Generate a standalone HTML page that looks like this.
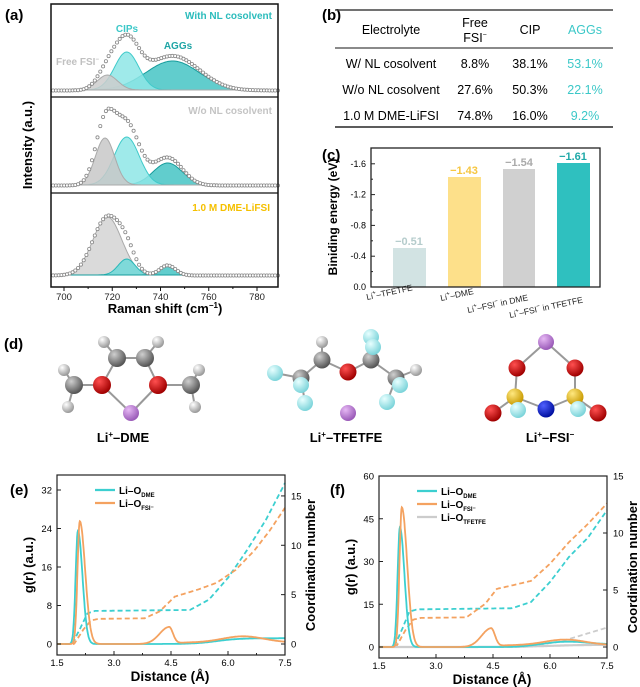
<!DOCTYPE html>
<html><head><meta charset="utf-8"><style>
body{margin:0;background:#fff}
svg{display:block;font-family:"Liberation Sans",Arial,sans-serif}
</style></head><body>
<svg id="s" width="640" height="687" viewBox="0 0 640 687" xmlns="http://www.w3.org/2000/svg">
<defs>
<radialGradient id="gC" cx="35%" cy="30%" r="70%"><stop offset="0" stop-color="#cfcfcf"/><stop offset="1" stop-color="#555"/></radialGradient>
<radialGradient id="gH" cx="35%" cy="30%" r="70%"><stop offset="0" stop-color="#fff"/><stop offset="1" stop-color="#999"/></radialGradient>
<radialGradient id="gO" cx="35%" cy="30%" r="70%"><stop offset="0" stop-color="#ff5050"/><stop offset="1" stop-color="#a00000"/></radialGradient>
<radialGradient id="gL" cx="35%" cy="30%" r="70%"><stop offset="0" stop-color="#e6b8f4"/><stop offset="1" stop-color="#9a5ab8"/></radialGradient>
<radialGradient id="gF" cx="35%" cy="30%" r="70%"><stop offset="0" stop-color="#e8ffff"/><stop offset="1" stop-color="#7cd4da"/></radialGradient>
<radialGradient id="gS" cx="35%" cy="30%" r="70%"><stop offset="0" stop-color="#ffe880"/><stop offset="1" stop-color="#c89a00"/></radialGradient>
<radialGradient id="gN" cx="35%" cy="30%" r="70%"><stop offset="0" stop-color="#5060ff"/><stop offset="1" stop-color="#0010a0"/></radialGradient>
</defs>
<g id="a"></g>
<!-- panel a labels -->
<text x="5" y="20" font-size="15" font-weight="bold">(a)</text>
<text x="272" y="19" font-size="10" font-weight="bold" fill="#2bbcbc" text-anchor="end">With NL cosolvent</text>
<text x="127" y="32" font-size="10" font-weight="bold" fill="#3cc8c8" text-anchor="middle">CIPs</text>
<text x="178" y="49" font-size="10" font-weight="bold" fill="#1fa5a5" text-anchor="middle">AGGs</text>
<text x="56" y="65" font-size="10" font-weight="bold" fill="#c0c0c0">Free FSI<tspan font-size="6" dy="-4">−</tspan></text>
<text x="272" y="114" font-size="10" font-weight="bold" fill="#c4c4c4" text-anchor="end">W/o NL cosolvent</text>
<text x="270" y="211" font-size="10" font-weight="bold" fill="#f5c000" text-anchor="end">1.0 M DME-LiFSI</text>
<text transform="translate(32,145) rotate(-90)" font-size="13" font-weight="bold" text-anchor="middle">Intensity (a.u.)</text>
<text x="165" y="313" font-size="13" font-weight="bold" text-anchor="middle">Raman shift (cm<tspan font-size="8" dy="-5">−1</tspan><tspan dy="5">)</tspan></text>
<!-- panel b -->
<text x="322" y="20" font-size="15" font-weight="bold">(b)</text>
<g stroke="#444"><line x1="335" y1="10" x2="613" y2="10" stroke-width="1.5"/><line x1="335" y1="48" x2="613" y2="48" stroke-width="1.2"/><line x1="335" y1="127" x2="613" y2="127" stroke-width="1.8"/></g>
<g font-size="12.5" text-anchor="middle">
<text x="391" y="34">Electrolyte</text>
<text x="475" y="27">Free</text><text x="475" y="42">FSI<tspan font-size="7" dy="-5">−</tspan></text>
<text x="530" y="34">CIP</text>
<text x="585" y="34" fill="#3cc8c8">AGGs</text>
<text x="391" y="68">W/ NL cosolvent</text><text x="475" y="68">8.8%</text><text x="530" y="68">38.1%</text><text x="585" y="68" fill="#3cc8c8">53.1%</text>
<text x="391" y="94">W/o NL cosolvent</text><text x="475" y="94">27.6%</text><text x="530" y="94">50.3%</text><text x="585" y="94" fill="#3cc8c8">22.1%</text>
<text x="391" y="120">1.0 M DME-LiFSI</text><text x="475" y="120">74.8%</text><text x="530" y="120">16.0%</text><text x="585" y="120" fill="#3cc8c8">9.2%</text>
</g>
<!-- panel c -->
<text x="322" y="160" font-size="15" font-weight="bold">(c)</text>
<rect x="393" y="248" width="33" height="39" fill="#d2e3e3"/>
<rect x="448" y="177" width="33" height="110" fill="#fde08a"/>
<rect x="503" y="169" width="32" height="118" fill="#d0d0d0"/>
<rect x="557" y="163" width="33" height="124" fill="#2fc0bf"/>
<rect x="371" y="148" width="229" height="139" fill="none" stroke="#222" stroke-width="1.3"/>
<g font-size="11" font-weight="bold" text-anchor="middle">
<text x="409" y="245" fill="#b5cccc">−0.51</text>
<text x="464" y="174" fill="#f6c640">−1.43</text>
<text x="519" y="166" fill="#aaa">−1.54</text>
<text x="573" y="160" fill="#1fa9a8">−1.61</text>
</g>
<g font-size="9" text-anchor="end" id="cy"></g>
<text transform="translate(337,217) rotate(-90)" font-size="12" font-weight="bold" text-anchor="middle">Biniding energy (eV)</text>
<g font-size="8.5" fill="#222">
<text transform="translate(367,300) rotate(-12)">Li<tspan font-size="6" dy="-4">+</tspan><tspan dy="4">–TFETFE</tspan></text>
<text transform="translate(441,301) rotate(-12)">Li<tspan font-size="6" dy="-4">+</tspan><tspan dy="4">–DME</tspan></text>
<text transform="translate(468,313) rotate(-12)">Li<tspan font-size="6" dy="-4">+</tspan><tspan dy="4">–FSI</tspan><tspan font-size="6" dy="-4">−</tspan><tspan dy="4"> in DME</tspan></text>
<text transform="translate(510,318) rotate(-12)">Li<tspan font-size="6" dy="-4">+</tspan><tspan dy="4">–FSI</tspan><tspan font-size="6" dy="-4">−</tspan><tspan dy="4"> in TFETFE</tspan></text>
</g>
<!-- panel d -->
<text x="4" y="349" font-size="15" font-weight="bold">(d)</text>
<g id="mol"></g>
<g font-size="13" font-weight="bold" text-anchor="middle">
<text x="123" y="442">Li<tspan font-size="8" dy="-5">+</tspan><tspan dy="5">–DME</tspan></text>
<text x="346" y="442">Li<tspan font-size="8" dy="-5">+</tspan><tspan dy="5">–TFETFE</tspan></text>
<text x="550" y="442">Li<tspan font-size="8" dy="-5">+</tspan><tspan dy="5">–FSI</tspan><tspan font-size="8" dy="-5">−</tspan></text>
</g>
<g id="e"></g><g id="f"></g>
<text x="10" y="495" font-size="15" font-weight="bold">(e)</text>
<text x="330" y="495" font-size="15" font-weight="bold">(f)</text>
</svg>
<script>
var S=document.getElementById('s'),NS='http://www.w3.org/2000/svg';
function el(p,t,a,txt){var e=document.createElementNS(NS,t);for(var k in a)e.setAttribute(k,a[k]);if(txt!=null)e.textContent=txt;(typeof p=='string'?document.getElementById(p):p).appendChild(e);return e;}
function g(x,m,s){return Math.exp(-(x-m)*(x-m)/(2*s*s));}
function ag(x,m,sl,sr){return g(x,m,x<m?sl:sr);}
function sg(x){return 1/(1+Math.exp(-x));}
// panel a
var X=function(v){return 64+(v-700)*2.4125;};
var panels=[
 {b:90,c:[[718,15,4.2,'#cccccc','#aaa'],[726,38,5,'#8ee6e6','#40caca'],[745,29,11,'#45c4c4','#169c9c']],ord:[2,1,0],top:4,bot:97},
 {b:185,c:[[717,47,4,'#c8c8c8','#aaa'],[726,48,5.2,'#8ee6e6','#40caca'],[743,22,6,'#45c4c4','#169c9c']],ord:[2,1,0],top:97,bot:193},
 {b:275,c:[[718,58,6,'#d4d4d4','#aaa'],[726,16,3.5,'#6fd8d8','#2ab8b8'],[743,10,3.3,'#45c4c4','#169c9c']],ord:[0,1,2],top:193,bot:287}];
panels.forEach(function(P,pi){
 var maxD=[56,77,60][pi];
 P.ord.forEach(function(i){var c=P.c[i];var d='M'+X(694.6)+','+P.b;
  for(var v=694.6;v<=788.7;v+=0.5){d+=' L'+X(v).toFixed(1)+','+(P.b-c[1]*g(v,c[0],c[2])).toFixed(1);}
  d+=' L'+X(788.7)+','+P.b+'Z';
  el('a','path',{d:d,fill:c[3],'fill-opacity':0.85,stroke:c[4],'stroke-width':1});});
 var tot=function(v){var s=0;P.c.forEach(function(c){s+=c[1]*g(v,c[0],c[2]);});return s;};
 var mx=0;for(var v=695;v<789;v+=0.5)mx=Math.max(mx,tot(v));
 var f=maxD/mx;
 for(var v=695.5;v<789;v+=1.15){var y=P.b+2-tot(v)*f-1.5;el('a','circle',{cx:X(v).toFixed(1),cy:y.toFixed(1),r:1.6,fill:'#fff',stroke:'#888','stroke-width':0.8});}
});
el('a','rect',{x:51,y:4,width:227,height:283,fill:'none',stroke:'#111','stroke-width':1.5});
el('a','line',{x1:51,y1:97,x2:278,y2:97,stroke:'#111','stroke-width':1.3});
el('a','line',{x1:51,y1:193,x2:278,y2:193,stroke:'#111','stroke-width':1.3});
for(var v=700;v<=780;v+=10){el('a','line',{x1:X(v),y1:287,x2:X(v),y2:v%20?289:291,stroke:'#111'});if(v%20==0)el('a','text',{x:X(v),y:300,'font-size':9.5,'text-anchor':'middle',fill:'#222'},v);}
// panel c y ticks
var Yc=function(v){return 287-v/0.4*30.8;};
[0,0.4,0.8,1.2,1.6].forEach(function(v){el('cy','text',{x:366,y:Yc(v)+3},v==0?'0.0':'-'+v.toFixed(1));el('cy','line',{x1:371,y1:Yc(v),x2:375,y2:Yc(v),stroke:'#222'});});
[0.2,0.6,1.0,1.4].forEach(function(v){el('cy','line',{x1:371,y1:Yc(v),x2:373,y2:Yc(v),stroke:'#222'});});
// molecules
function bond(a,b){el('mol','line',{x1:a[0],y1:a[1],x2:b[0],y2:b[1],stroke:'#999','stroke-width':2});}
function at(p,t,r){el('mol','circle',{cx:p[0],cy:p[1],r:r,fill:'url(#g'+t+')'});}
var D={H1:[104,342],H2:[158,342],H3:[64,370],H4:[199,370],H5:[68,407],H6:[195,407],C1:[117,358],C2:[145,358],C3:[74,385],C4:[191,385],O1:[102,385],O2:[158,385],L:[131,413]};
[['C1','C2'],['C1','O1'],['C2','O2'],['O1','C3'],['O2','C4'],['O1','L'],['O2','L'],['H1','C1'],['H2','C2'],['H3','C3'],['H5','C3'],['H4','C4'],['H6','C4']].forEach(function(b){bond(D[b[0]],D[b[1]]);});
['H1','H2','H3','H4','H5','H6'].forEach(function(k){at(D[k],'H',6);});
at(D.C3,'C',9);at(D.C4,'C',9);at(D.C1,'C',9);at(D.C2,'C',9);at(D.O1,'O',9);at(D.O2,'O',9);at(D.L,'L',8);
var T={F1:[275,373],F2:[371,337],F3:[373,347],F4:[301,385],F5:[305,403],F6:[400,385],F7:[387,402],C1:[322,360],C2:[371,360],C3:[301,378],C4:[396,378],H1:[322,342],H2:[416,370],O:[348,372],L:[348,413]};
[['C1','O'],['C2','O'],['C1','C3'],['C2','C4'],['C3','F1'],['C3','F4'],['C3','F5'],['C2','F2'],['C2','F3'],['C4','F6'],['C4','F7'],['C1','H1'],['C4','H2']].forEach(function(b){bond(T[b[0]],T[b[1]]);});
at(T.H1,'H',6);at(T.H2,'H',6);at(T.F2,'F',8);at(T.C1,'C',8.5);at(T.C2,'C',8.5);at(T.F3,'F',8);at(T.O,'O',8.5);at(T.F1,'F',8);at(T.C3,'C',8.5);at(T.C4,'C',8.5);at(T.F4,'F',8);at(T.F6,'F',8);at(T.F5,'F',8);at(T.F7,'F',8);at(T.L,'L',8);
var F={L:[546,342],O1:[517,368],O2:[575,368],S1:[515,397],S2:[575,397],N:[546,409],O3:[493,413],O4:[598,413],F1:[518,410],F2:[578,409]};
[['L','O1'],['L','O2'],['O1','S1'],['O2','S2'],['S1','N'],['S2','N'],['S1','O3'],['S2','O4']].forEach(function(b){bond(F[b[0]],F[b[1]]);});
at(F.L,'L',8);at(F.O1,'O',8.5);at(F.O2,'O',8.5);at(F.S1,'S',8.5);at(F.S2,'S',8.5);at(F.O3,'O',8.5);at(F.O4,'O',8.5);at(F.N,'N',8.5);at(F.F1,'F',8);at(F.F2,'F',8);
// RDF panels
function lin(pts,x){if(x<=pts[0][0])return pts[0][1];for(var i=1;i<pts.length;i++){if(x<=pts[i][0]){var a=pts[i-1],b=pts[i];return a[1]+(b[1]-a[1])*(x-a[0])/(b[0]-a[0]);}}return pts[pts.length-1][1];}
function rdf(id,x0,yb,yt,lmax,ltk,lminor,rmax,rtk,curves,cns,leg){
 var X=function(r){return x0+(r-1.5)*38;};var YL=function(v){return yb-(v)*(yb-yt)/lmax;};var YR=function(v){return yb-(v)*(yb-yt)/rmax;};
 var top=yt-(id=='e'?15:0);
 cns.forEach(function(c){var d='';for(var r=1.5;r<=7.501;r+=0.02){var v=Math.max(lin(c[0],r),0);if(r<c[0][0][0])v=0;d+=(d?' L':'M')+X(r).toFixed(1)+','+YR(v).toFixed(1);}el(id,'path',{d:d,fill:'none',stroke:c[1],'stroke-width':1.8,'stroke-dasharray':'5,3'});});
 curves.forEach(function(c){var d='';for(var r=1.5;r<=7.501;r+=0.01){d+=(d?' L':'M')+X(r).toFixed(1)+','+YL(c[0](r)).toFixed(1);}el(id,'path',{d:d,fill:'none',stroke:c[1],'stroke-width':c[2]||1.8});});
 var bot=yb+11;
 el(id,'rect',{x:x0,y:top,width:228,height:bot-top,fill:'none',stroke:'#222','stroke-width':1.2});
 [1.5,3,4.5,6,7.5].forEach(function(r){el(id,'line',{x1:X(r),y1:bot,x2:X(r),y2:bot-4,stroke:'#222'});el(id,'text',{x:X(r),y:bot+11,'font-size':9.5,'text-anchor':'middle'},r.toFixed(1));});
 [2.25,3.75,5.25,6.75].forEach(function(r){el(id,'line',{x1:X(r),y1:bot,x2:X(r),y2:bot-2,stroke:'#222'});});
 for(var v=0;v<=lmax+0.01;v+=ltk){el(id,'line',{x1:x0,y1:YL(v),x2:x0+4,y2:YL(v),stroke:'#222'});el(id,'text',{x:x0-5,y:YL(v)+3.5,'font-size':9.5,'text-anchor':'end'},v);}
 for(var v=0;v<=rmax+0.01;v+=rtk){el(id,'line',{x1:x0+228,y1:YR(v),x2:x0+224,y2:YR(v),stroke:'#222'});el(id,'text',{x:x0+234,y:YR(v)+3.5,'font-size':9.5},v);}
 el(id,'text',{x:x0+113,y:bot+26,'font-size':13.5,'font-weight':'bold','text-anchor':'middle'},'Distance (Å)');
 el(id,'text',{transform:'translate('+(x0-24)+','+((top+bot)/2)+') rotate(-90)','font-size':13,'font-weight':'bold','text-anchor':'middle'},'g(r) (a.u.)');
 el(id,'text',{transform:'translate('+(x0+258)+','+((top+bot)/2)+') rotate(-90)','font-size':13,'font-weight':'bold','text-anchor':'middle'},'Coordination number');
 leg.forEach(function(l,i){var y=top+15+i*13;el(id,'line',{x1:x0+38,y1:y,x2:x0+58,y2:y,stroke:l[1],'stroke-width':2.2});var t=el(id,'text',{x:x0+62,y:y+4,'font-size':10,'font-weight':'bold'},'Li–O');var ts=el(t,'tspan',{'font-size':6,dy:3},l[0]);});
}
rdf('e',57,644,490,32,8,4,32/4.8125*9.87/9.87*0+15.6,5,
 [[function(r){return 23.5*ag(r,2.05,0.06,0.12)+1.2*sg((r-5.7)/0.3);},'#3ccfd0'],
  [function(r){return 25.5*ag(r,2.1,0.06,0.14)+3.5*ag(r,4.45,0.25,0.1)+0.3*sg((r-4.6)/0.1)+1.3*g(r,6.4,0.55);},'#f4a260']],
 [[[[1.9,0],[2.1,1.5],[2.3,3.1],[2.5,3.35],[5.0,3.45],[5.5,4.5],[6.0,6.7],[6.5,9.5],[7.0,12.6],[7.5,16.3]],'#3ccfd0'],
  [[[1.95,0],[2.2,1.5],[2.4,2.4],[2.6,2.55],[3.8,2.6],[4.2,3.3],[4.6,4.8],[5.2,5.5],[5.7,6.2],[6.2,7.5],[6.7,9.5],[7.1,11.5],[7.5,13.8]],'#f4a260']],
 [['DME','#3ccfd0'],['FSI⁻','#f4a260']]);
rdf('f',379,647,476,60,15,0,15,5,
 [[function(r){return 0.8*sg((r-6)/0.5);},'#cccccc',2.2],
  [function(r){return 42*ag(r,2.05,0.06,0.12)+1.5*g(r,6.3,0.6)*sg((r-5)/0.2)+0.9*sg((r-6.5)/0.3);},'#3ccfd0'],
  [function(r){return 49*ag(r,2.1,0.06,0.14)+6.5*ag(r,4.45,0.25,0.1)+0.6*sg((r-4.6)/0.1)+2*g(r,6.4,0.55);},'#f4a260']],
 [[[[5.3,0],[6.3,0.5],[7.0,1.2],[7.5,1.7]],'#cccccc'],
  [[[1.9,0],[2.1,1.5],[2.3,3.1],[2.5,3.3],[5.0,3.4],[5.5,3.95],[6.0,5.7],[6.5,7.9],[7.0,9.6],[7.5,12]],'#3ccfd0'],
  [[[1.95,0],[2.2,1.5],[2.4,2.4],[2.6,2.55],[3.8,2.6],[4.3,3.8],[4.6,5.1],[5.0,5.4],[5.5,5.8],[6.0,7.3],[6.5,9.2],[7.0,10.8],[7.5,12.6]],'#f4a260']],
 [['DME','#3ccfd0'],['FSI⁻','#f4a260'],['TFETFE','#cccccc']]);
</script>
</body></html>
